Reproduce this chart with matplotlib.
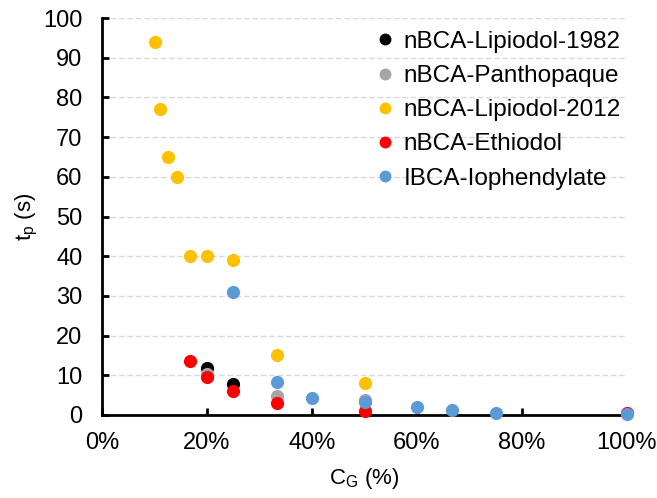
import matplotlib
matplotlib.use("Agg")
import matplotlib.pyplot as plt
from matplotlib.ticker import PercentFormatter

plt.rcParams['font.family'] = ['Liberation Sans', 'DejaVu Sans']
plt.rcParams['mathtext.fontset'] = 'custom'
plt.rcParams['mathtext.rm'] = 'Liberation Sans'

# concentration of glue (fraction) and polymerization time (s)
x_lip1982 = [0.20, 0.25]
y_lip1982 = [11.9, 7.7]

x_panth = [0.20, 0.333, 0.50]
y_panth = [10.3, 4.9, 3.8]

x_lip2012 = [0.10, 0.111, 0.125, 0.143, 0.167, 0.20, 0.25, 0.333, 0.50]
y_lip2012 = [94, 77, 65, 60, 40, 40, 39, 15, 8]

x_ethiodol = [0.167, 0.20, 0.25, 0.333, 0.50, 1.00]
y_ethiodol = [13.5, 9.5, 6.0, 3.0, 1.0, 0.5]

x_iophen = [0.25, 0.333, 0.40, 0.50, 0.60, 0.667, 0.75, 1.00]
y_iophen = [31, 8.4, 4.4, 3.3, 2.1, 1.3, 0.4, 0.3]

series = [
    ("nBCA-Lipiodol-1982", x_lip1982, y_lip1982, "#000000"),
    ("nBCA-Panthopaque", x_panth, y_panth, "#a5a5a5"),
    ("nBCA-Lipiodol-2012", x_lip2012, y_lip2012, "#ffc000"),
    ("nBCA-Ethiodol", x_ethiodol, y_ethiodol, "#ff0000"),
    ("IBCA-Iophendylate", x_iophen, y_iophen, "#5b9bd5"),
]

fig = plt.figure(figsize=(6.57, 4.98), dpi=100)
ax = fig.add_axes([0.1553, 0.1667, 0.799, 0.797])

for name, xs, ys, col in series:
    ax.plot(xs, ys, "o", color=col, markersize=9.5, markeredgewidth=0,
            label=name, clip_on=False, zorder=3)

ax.set_xlim(0, 1)
ax.set_ylim(0, 100)
ax.set_xticks([0, 0.2, 0.4, 0.6, 0.8, 1.0])
ax.set_yticks(range(0, 101, 10))
ax.xaxis.set_major_formatter(PercentFormatter(1.0, decimals=0))

ax.grid(axis="y", color="#d9d9d9", linestyle=(0, (4, 2)), linewidth=1)
ax.set_axisbelow(True)
for s in ["top", "right"]:
    ax.spines[s].set_visible(False)
for s in ["left", "bottom"]:
    ax.spines[s].set_linewidth(2)
ax.tick_params(direction="in", length=5, width=2, labelsize=17)
ax.tick_params(axis="y", pad=14)
ax.tick_params(axis="x", pad=12)

ax.set_xlabel(r"C$_\mathregular{G}$ (%)", fontsize=16, labelpad=9)
ax.set_ylabel(r"t$_\mathregular{p}$ (s)", fontsize=16, labelpad=2)

ax.legend(loc="upper right", bbox_to_anchor=(0.997, 0.98), frameon=False,
          fontsize=17.5, handlelength=0.8, handletextpad=0.35,
          markerscale=0.9, labelspacing=0.5, borderaxespad=0.0,
          borderpad=0.2)

fig.savefig("out.png", dpi=100)
